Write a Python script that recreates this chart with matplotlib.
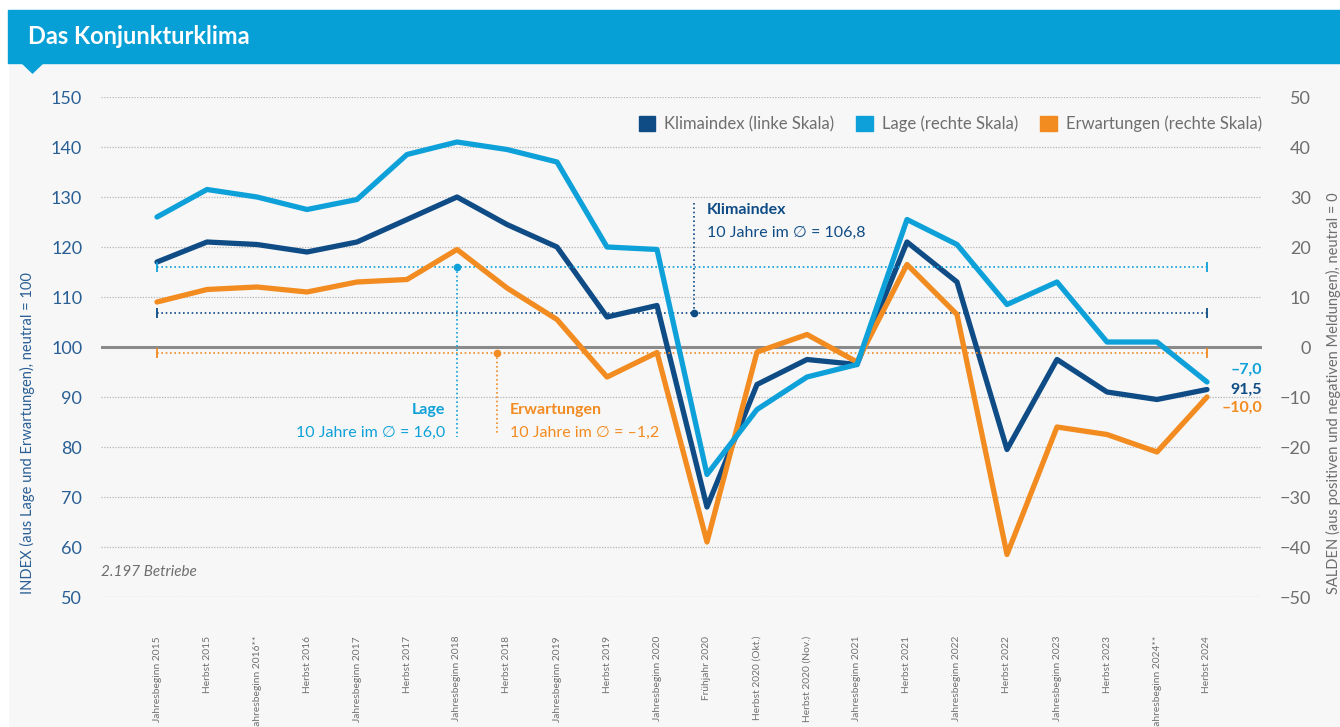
import matplotlib
matplotlib.use("Agg")
import matplotlib.pyplot as plt
from matplotlib.patches import Rectangle, Polygon, Patch

plt.rcParams['font.family'] = ['Lato', 'DejaVu Sans']

categories = ["Jahresbeginn 2015", "Herbst 2015", "Jahresbeginn 2016**", "Herbst 2016",
              "Jahresbeginn 2017", "Herbst 2017", "Jahresbeginn 2018", "Herbst 2018",
              "Jahresbeginn 2019", "Herbst 2019", "Jahresbeginn 2020", "Frühjahr 2020",
              "Herbst 2020 (Okt.)", "Herbst 2020 (Nov.)", "Jahresbeginn 2021", "Herbst 2021",
              "Jahresbeginn 2022", "Herbst 2022", "Jahresbeginn 2023", "Herbst 2023",
              "Jahresbeginn 2024**", "Herbst 2024"]

# Klimaindex, left scale
klimaindex = [117, 121, 120.5, 119, 121, 125.5, 130, 124.5, 120, 106, 108.3, 68,
              92.5, 97.5, 96.5, 121, 113, 79.5, 97.5, 91, 89.5, 91.5]
# Lage and Erwartungen, right scale
lage = [26, 31.5, 30, 27.5, 29.5, 38.5, 41, 39.5, 37, 20, 19.5, -25.5,
        -12.5, -6, -3.5, 25.5, 20.5, 8.5, 13, 1, 1, -7.0]
erwartungen = [9, 11.5, 12, 11, 13, 13.5, 19.5, 11.8, 5.5, -6, -1.1, -39,
               -1, 2.5, -3, 16.5, 6.5, -41.5, -16, -17.5, -21, -10.0]

avg_klima = 106.8
avg_lage = 16.0
avg_erw = -1.2

NAVY = '#0f4c86'
BLUE = '#0ea1d9'
ORANGE = '#f28b20'
GRAY = '#6e6e6e'
BAR = '#07a0d6'

W, H = 1340, 727
fig = plt.figure(figsize=(13.4, 7.27), dpi=100, facecolor='#f7f7f7')

# frame / header
fig.patches.append(Rectangle((0, 1 - 10 / H), 1, 10 / H, transform=fig.transFigure, color='white', zorder=0))
fig.patches.append(Rectangle((0, 0), 8 / W, 1, transform=fig.transFigure, color='white', zorder=0))
fig.patches.append(Rectangle((8 / W, 1 - 63 / H), 1, 53 / H, transform=fig.transFigure, color=BAR, zorder=1))
fig.patches.append(Polygon([(21 / W, 1 - 62 / H), (44 / W, 1 - 62 / H), (32.5 / W, 1 - 73 / H)],
                           closed=True, transform=fig.transFigure, color=BAR, zorder=1))
fig.text(28 / W, 1 - 37 / H, "Das Konjunkturklima", color='white', fontsize=17,
         fontweight='bold', va='center', ha='left')

ax = fig.add_axes([101 / W, 1 - 597 / H, 1161 / W, 500 / H])
ax.set_facecolor('none')
ax2 = ax.twinx()

x = list(range(len(categories)))
ax.set_xlim(-1.12, 22.1)
ax.set_ylim(50, 150)
ax2.set_ylim(-50, 50)

for a in (ax, ax2):
    for sp in a.spines.values():
        sp.set_visible(False)

# gridlines
for v in range(50, 151, 10):
    if v == 100:
        ax.axhline(v, color='#8a8a8a', lw=2.2, zorder=1)
    else:
        ax.axhline(v, color='#b5b5b5', lw=0.9, linestyle=(0, (1, 1.2)), zorder=1)

ax.set_yticks(range(50, 151, 10))
ax2.set_yticks(range(-50, 51, 10))
ax.tick_params(axis='y', length=0, labelsize=13, labelcolor='#2a5f95', pad=13.5)
ax2.tick_params(axis='y', length=0, labelsize=13, labelcolor=GRAY, pad=35)
for lbl in ax2.get_yticklabels():
    lbl.set_horizontalalignment('right')

ax.set_xticks(x)
ax.set_xticklabels(categories, rotation=90, fontsize=7.4, color='#707070', va='top', ha='center')
ax.tick_params(axis='x', length=0, pad=28)

# average lines
dot = (0, (1, 1.6))
ax.plot([0, 21], [avg_klima, avg_klima], color=NAVY, lw=1.2, linestyle=dot, zorder=2)
ax.plot([0, 21], [avg_klima, avg_klima], color=NAVY, lw=0, marker='|', ms=7, mew=1.3, zorder=2)
ax2.plot([0, 21], [avg_lage, avg_lage], color=BLUE, lw=1.2, linestyle=dot, zorder=2)
ax2.plot([0, 21], [avg_lage, avg_lage], color=BLUE, lw=0, marker='|', ms=7, mew=1.3, zorder=2)
ax2.plot([0, 21], [avg_erw, avg_erw], color=ORANGE, lw=1.2, linestyle=dot, zorder=2)
ax2.plot([0, 21], [avg_erw, avg_erw], color=ORANGE, lw=0, marker='|', ms=7, mew=1.3, zorder=2)

# connectors to the annotations
ax.plot([10.73, 10.73], [avg_klima, 128.8], color=NAVY, lw=1.2, linestyle=dot, zorder=2)
ax.plot([10.73], [avg_klima], 'o', color=NAVY, ms=4.5, zorder=2)
ax2.plot([6, 6], [avg_lage, -18], color=BLUE, lw=1.2, linestyle=dot, zorder=2)
ax2.plot([6], [avg_lage], 'o', color=BLUE, ms=4.5, zorder=2)
ax2.plot([6.8, 6.8], [avg_erw, -17.6], color=ORANGE, lw=1.2, linestyle=dot, zorder=2)
ax2.plot([6.8], [avg_erw], 'o', color=ORANGE, ms=4.5, zorder=2)

# series
ax.plot(x, klimaindex, color=NAVY, lw=3.8, solid_joinstyle='round', solid_capstyle='round', zorder=5)
ax2.plot(x, lage, color=BLUE, lw=3.8, solid_joinstyle='round', solid_capstyle='round', zorder=4)
ax2.plot(x, erwartungen, color=ORANGE, lw=3.8, solid_joinstyle='round', solid_capstyle='round', zorder=3)

# annotations
ax.text(11.0, 127.4, "Klimaindex", color=NAVY, fontsize=11.5, fontweight='bold', ha='left', va='center')
ax.text(11.0, 122.9, "10 Jahre im \u2205 = 106,8", color=NAVY, fontsize=11.5, ha='left', va='center')
ax2.text(5.76, -12.6, "Lage", color=BLUE, fontsize=11.5, fontweight='bold', ha='right', va='center')
ax2.text(5.76, -17.1, "10 Jahre im \u2205 = 16,0", color=BLUE, fontsize=11.5, ha='right', va='center')
ax2.text(7.06, -12.6, "Erwartungen", color=ORANGE, fontsize=11.5, fontweight='bold', ha='left', va='center')
ax2.text(7.06, -17.1, "10 Jahre im \u2205 = \u20131,2", color=ORANGE, fontsize=11.5, ha='left', va='center')

# end labels
ax2.text(22.1, -4.6, "\u20137,0", color=BLUE, fontsize=11.5, fontweight='bold', ha='right', va='center')
ax.text(22.1, 91.4, "91,5", color=NAVY, fontsize=11.5, fontweight='bold', ha='right', va='center')
ax2.text(22.1, -12.1, "\u201310,0", color=ORANGE, fontsize=11.5, fontweight='bold', ha='right', va='center')

ax.text(0, 1 - (572 - 97) / 500, "2.197 Betriebe", transform=ax.transAxes, color=GRAY,
        fontsize=11, style='italic', ha='left', va='center')

# axis titles
fig.text(27 / W, 1 - 594 / H, "INDEX (aus Lage und Erwartungen), neutral = 100", rotation=90,
         color='#2a5f95', fontsize=10.5, ha='center', va='bottom')
fig.text(1333 / W, 1 - 594 / H, "SALDEN (aus positiven und negativen Meldungen), neutral = 0", rotation=90,
         color=GRAY, fontsize=10.5, ha='center', va='bottom')

# legend
handles = [Patch(color=NAVY, label="Klimaindex (linke Skala)"),
           Patch(color=BLUE, label="Lage (rechte Skala)"),
           Patch(color=ORANGE, label="Erwartungen (rechte Skala)")]
fig.legend(handles=handles, ncol=3, loc='center right', bbox_to_anchor=(1262 / W, 1 - 124 / H),
           frameon=False, fontsize=12, labelcolor=GRAY, handlelength=1.0, handleheight=1.0,
           handletextpad=0.55, columnspacing=1.3, borderaxespad=0, borderpad=0)

fig.savefig("out.png", dpi=100, facecolor=fig.get_facecolor())
